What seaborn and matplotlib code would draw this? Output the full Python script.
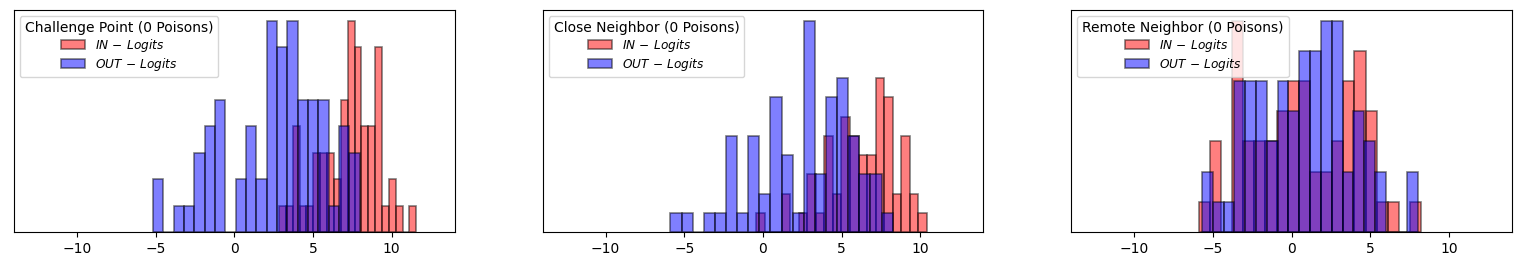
import numpy as np
import pandas as pd
import matplotlib
matplotlib.use("Agg")
import matplotlib.pyplot as plt
import seaborn as sns

# ---- data: per-panel histogram counts (20 bins each) and the value range of each series
titles = ["Challenge Point (0 Poisons)", "Close Neighbor (0 Poisons)", "Remote Neighbor (0 Poisons)"]
series_labels = [r"$IN\,-\,Logits$", r"$OUT\,-\,Logits$"]

cp_in_range = (2.84, 11.57)
cp_in_counts = [1, 1, 4, 1, 1, 3, 3, 3, 2, 5, 8, 7, 4, 4, 7, 1, 2, 1, 0, 1]
cp_out_range = (-5.17, 7.96)
cp_out_counts = [2, 0, 1, 1, 3, 4, 5, 0, 2, 4, 2, 8, 7, 8, 5, 5, 5, 1, 4, 3]

cn_in_range = (-0.42, 10.40)
cn_in_counts = [1, 0, 0, 2, 0, 1, 3, 1, 5, 2, 6, 5, 4, 4, 8, 7, 2, 5, 2, 1]
cn_out_range = (-5.88, 8.24)
cn_out_counts = [1, 1, 0, 1, 1, 5, 1, 5, 2, 7, 4, 1, 11, 3, 7, 8, 5, 3, 3, 1]

rn_in_range = (-5.91, 8.23)
rn_in_counts = [1, 3, 0, 7, 3, 3, 3, 4, 5, 5, 2, 2, 3, 5, 6, 4, 1, 1, 0, 1]
rn_out_range = (-5.70, 8.04)
rn_out_counts = [2, 1, 1, 5, 5, 5, 3, 5, 4, 6, 6, 7, 7, 2, 4, 3, 2, 0, 0, 2]

x_limits = (-14, 14)

panels = [
    (titles[0], (cp_in_range, cp_in_counts), (cp_out_range, cp_out_counts)),
    (titles[1], (cn_in_range, cn_in_counts), (cn_out_range, cn_out_counts)),
    (titles[2], (rn_in_range, rn_in_counts), (rn_out_range, rn_out_counts)),
]
colors = ["red", "blue"]

fig, axes = plt.subplots(1, 3, figsize=(15.22, 2.65), dpi=100)
fig.subplots_adjust(left=0.0092, right=0.9934, top=0.962, bottom=0.1245, wspace=0.2)

for ax, (title, in_s, out_s) in zip(axes, panels):
    for (rng, counts), col, lab in zip([in_s, out_s], colors, series_labels):
        nb = len(counts)
        edges = np.linspace(rng[0], rng[1], nb + 1)
        centers = (edges[:-1] + edges[1:]) / 2
        df = pd.DataFrame({"value": centers, "count": counts})
        sns.histplot(data=df, x="value", weights="count", bins=nb, binrange=rng,
                     color=col, alpha=0.5, edgecolor=(0, 0, 0, 0.5), linewidth=1.2,
                     label=lab, ax=ax)
    ax.set_xlim(*x_limits)
    ax.set_yticks([])
    ax.set_ylabel("")
    ax.set_xlabel("")
    ax.tick_params(axis="x", labelsize=10)
    ax.legend(title=title, loc="upper left", fontsize=8.7, title_fontsize=10,
              labelspacing=0.15)

fig.savefig("out.png", dpi=100)
